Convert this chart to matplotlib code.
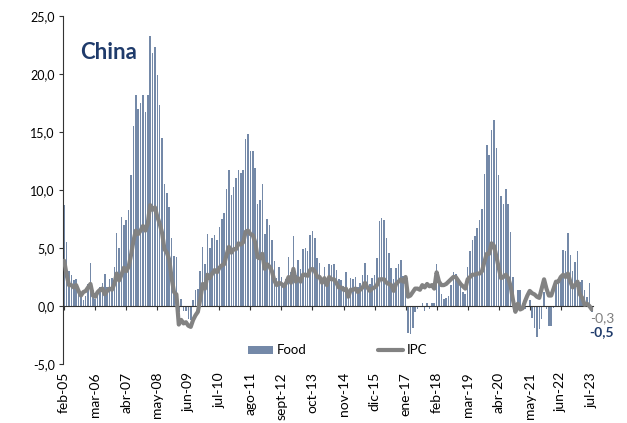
import numpy as np
import matplotlib
matplotlib.use("Agg")
import matplotlib.pyplot as plt

plt.rcParams['font.family'] = ['Lato', 'DejaVu Sans']

# monthly data, feb-05 .. jul-23 (y/y %)
ipc = [
    3.9, 2.7, 1.8, 1.8, 1.6, 1.8, 1.3, 0.9, 1.2, 1.3, 1.6,
    1.9, 0.9, 0.8, 1.2, 1.4, 1.5, 1.0, 1.3, 1.5, 1.4, 1.9, 2.8,
    2.2, 2.7, 3.3, 3.0, 3.4, 4.4, 5.6, 6.5, 6.2, 6.5, 6.9, 6.5,
    7.1, 8.7, 8.3, 8.5, 7.7, 7.1, 6.3, 4.9, 4.6, 4.0, 2.4, 1.2,
    1.0, -1.6, -1.2, -1.5, -1.4, -1.7, -1.8, -1.2, -0.8, -0.5, 0.6, 1.9,
    1.5, 2.7, 2.4, 2.8, 3.1, 2.9, 3.3, 3.5, 3.6, 4.4, 5.1, 4.6,
    4.9, 4.9, 5.4, 5.3, 5.5, 6.4, 6.5, 6.2, 6.1, 5.5, 4.2, 4.1,
    4.5, 3.2, 3.6, 3.4, 3.0, 2.2, 1.8, 2.0, 1.9, 1.7, 2.0, 2.5,
    2.0, 3.2, 2.1, 2.4, 2.1, 2.7, 2.7, 2.6, 3.1, 3.2, 3.0, 2.5,
    2.5, 2.0, 2.4, 1.8, 2.5, 2.3, 2.3, 2.0, 1.6, 1.6, 1.4, 1.5,
    0.8, 1.4, 1.4, 1.5, 1.2, 1.4, 1.6, 2.0, 1.6, 1.3, 1.5, 1.6,
    1.8, 2.3, 2.3, 2.3, 2.0, 1.9, 1.8, 1.3, 1.9, 2.1, 2.3, 2.1,
    2.5, 0.8, 0.9, 1.2, 1.5, 1.5, 1.4, 1.8, 1.6, 1.9, 1.7, 1.8,
    1.5, 2.9, 2.1, 1.8, 1.8, 1.9, 2.1, 2.3, 2.5, 2.5, 2.2, 1.9,
    1.7, 1.5, 2.3, 2.5, 2.7, 2.7, 2.8, 2.8, 3.0, 3.8, 4.5, 4.5,
    5.4, 5.2, 4.3, 3.3, 2.4, 2.5, 2.7, 2.4, 1.7, 0.5, -0.5, 0.2,
    -0.3, -0.2, 0.4, 0.9, 1.3, 1.1, 1.0, 0.8, 0.7, 1.5, 2.3, 1.5,
    0.9, 0.9, 1.5, 2.1, 2.1, 2.5, 2.7, 2.5, 2.8, 2.1, 1.6, 1.8,
    2.1, 1.0, 0.7, 0.1, 0.2, 0.0, -0.3,
]

food = [
    8.7, 5.5, 3.0, 2.7, 2.2, 2.3, 1.6, 1.1, 0.5, 0.9, 1.9,
    3.7, 1.4, 0.6, 1.2, 1.6, 2.0, 2.8, 1.6, 2.3, 2.4, 3.4, 6.3,
    5.0, 7.7, 7.0, 7.4, 8.3, 11.3, 15.5, 18.2, 17.0, 17.5, 18.2, 16.7,
    18.2, 23.3, 21.8, 22.3, 19.9, 17.3, 14.5, 10.5, 9.7, 8.5, 5.9, 4.3,
    4.2, -0.5, 0.6, -0.4, -0.4, -1.1, -1.2, 0.5, 1.4, 1.5, 3.0, 5.1,
    3.6, 6.2, 5.0, 5.9, 6.1, 5.7, 6.8, 7.5, 8.0, 10.1, 11.7, 9.6,
    10.3, 11.0, 11.7, 11.5, 11.7, 14.4, 14.8, 13.4, 13.4, 11.9, 8.8, 9.1,
    10.5, 6.2, 7.5, 7.0, 5.7, 3.9, 2.4, 3.4, 2.5, 1.8, 2.3, 4.2,
    2.9, 6.0, 2.7, 4.0, 3.2, 4.9, 5.0, 4.7, 6.1, 6.5, 5.9, 4.1,
    3.7, 2.4, 3.4, 2.3, 3.6, 3.5, 3.6, 3.1, 2.3, 2.2, 1.7, 2.9,
    1.1, 2.4, 2.3, 2.5, 1.6, 2.0, 2.7, 3.7, 2.7, 1.9, 2.4, 2.7,
    4.1, 7.3, 7.6, 7.4, 5.9, 4.6, 3.3, 2.3, 3.3, 3.6, 4.0, 2.6,
    2.6, -2.3, -2.4, -1.9, -0.5, -0.3, -0.1, 0.3, -0.4, 0.3, -0.3, 0.3,
    0.3, 3.6, 2.2, 1.0, 0.6, 0.7, 0.9, 1.8, 2.9, 2.8, 2.4, 2.0,
    1.2, 1.0, 3.4, 4.7, 5.7, 6.0, 6.7, 7.4, 8.4, 11.4, 13.9, 13.0,
    15.2, 16.0, 13.6, 11.3, 9.5, 8.8, 10.1, 8.8, 6.4, 2.5, -0.5, 1.4,
    1.4, 0.3, -0.3, 0.0, 0.5, -1.0, -1.9, -2.7, -2.0, -1.1, 1.2, -0.3,
    -1.7, -1.7, -0.2, 1.9, 2.3, 2.5, 4.8, 4.7, 6.3, 4.4, 3.0, 3.8,
    4.7, 2.1, 2.2, 1.4, 0.8, 2.0, -0.5,
]

tick_labels = ['feb-05', 'mar-06', 'abr-07', 'may-08', 'jun-09', 'jul-10',
               'ago-11', 'sept-12', 'oct-13', 'nov-14', 'dic-15', 'ene-17',
               'feb-18', 'mar-19', 'abr-20', 'may-21', 'jun-22', 'jul-23']

x = np.arange(len(ipc))

fig = plt.figure(figsize=(6.27, 4.23), dpi=100)
ax = fig.add_axes([63/627, 59/423, 530/627, 348/423])

# spines first: moving the bottom spine resets the tick settings
for s in ['top', 'right']:
    ax.spines[s].set_visible(False)
ax.spines['bottom'].set_position(('data', 0))
ax.spines['bottom'].set_color('#333333')
ax.spines['left'].set_color('#333333')

bars = ax.bar(x, food, width=0.65, color='#7489A8', label='Food', zorder=2)
line, = ax.plot(x, ipc, color='#828282', lw=3, solid_joinstyle='round',
                solid_capstyle='round', label='IPC', zorder=3)

ax.set_xlim(-0.5, len(x) - 0.5)
ax.set_ylim(-5, 25)

yt = np.arange(-5, 26, 5)
ax.set_yticks(yt)
ax.set_yticklabels([f"{v:.1f}".replace('.', ',') for v in yt], fontsize=9)

ax.set_xticks(x[::13])
ax.set_xticklabels(tick_labels, fontsize=10)
ax.tick_params(axis='x', direction='out', length=3, color='#333333',
               pad=44.5, labelrotation=90)
ax.tick_params(axis='y', direction='out', length=3, color='#333333', pad=3)

ax.legend(handles=[bars, line], loc='center', bbox_to_anchor=(0.518, 0.039),
          ncol=2, frameon=False, fontsize=9.5, handlelength=1.9,
          handleheight=0.55, handletextpad=0.3, columnspacing=5.4)

ax.annotate(f"{ipc[-1]:.1f}".replace('.', ','), xy=(x[-1], ipc[-1]),
            xytext=(-1.5, -9.2), textcoords='offset points',
            ha='left', va='baseline', fontsize=10, color='#7F7F7F')
ax.annotate(f"{food[-1]:.1f}".replace('.', ','), xy=(x[-1], food[-1]),
            xytext=(-2, -17.6), textcoords='offset points',
            ha='left', va='baseline', fontsize=10, fontweight='bold',
            color='#1F3B6B')

fig.text(80/627, 1 - 59/423, 'China', fontsize=16, fontweight='bold',
         color='#1F3B6B', va='baseline', ha='left')

fig.savefig('out.png', dpi=100)
